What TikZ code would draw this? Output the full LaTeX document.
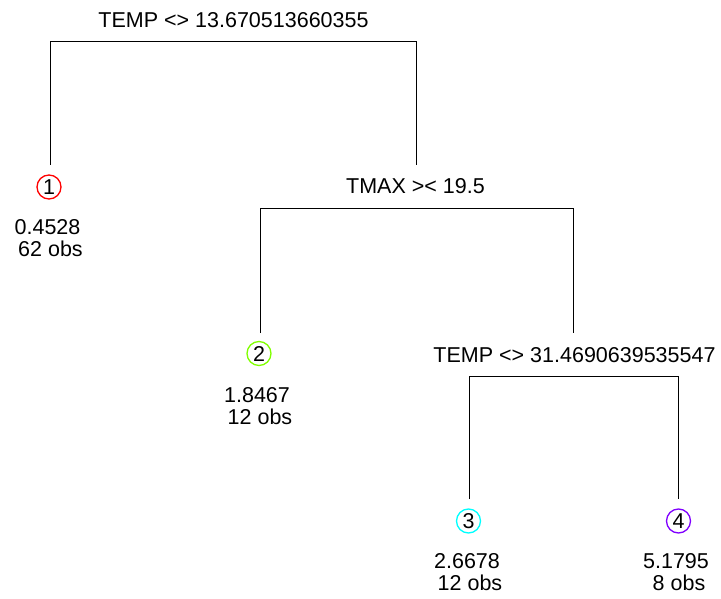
\documentclass[tikz,border=0pt]{standalone}
\usepackage{fontspec}
\setmainfont{Liberation Sans}
\definecolor{leafA}{HTML}{FF0000}
\definecolor{leafB}{HTML}{80FF00}
\definecolor{leafC}{HTML}{00FFFF}
\definecolor{leafD}{HTML}{8000FF}
\begin{document}
\begin{tikzpicture}[x=1pt,y=-1pt,
  lab/.style={anchor=base,inner sep=0pt,font=\fontsize{21.5}{22}\selectfont},
  leaf/.style={circle,draw=#1,line width=1.3pt,minimum size=24pt,inner sep=0pt,font=\fontsize{21.5}{22}\selectfont},
  edge/.style={line width=1pt,black}]
\useasboundingbox (0,0) rectangle (721,599);
% split labels
\node[lab] (s1) at (233.5,27.5) {TEMP <> 13.670513660355};
\node[lab] (s2) at (415.5,193.5) {TMAX >< 19.5};
\node[lab] (s3) at (574.5,362) {TEMP <> 31.4690639535547};
% leaves
\node[leaf=leafA] (c1) at (49,187) {1};
\node[leaf=leafB] (c2) at (259,353.5) {2};
\node[leaf=leafC] (c3) at (468.5,521) {3};
\node[leaf=leafD] (c4) at (678.5,521) {4};
% leaf texts
\node[lab] (v1) at (47.5,235) {0.4528};
\node[lab] (n1) at (47.5,257) {\ 62 obs};
\node[lab] (v2) at (257,402) {1.8467};
\node[lab] (n2) at (257,424) {\ 12 obs};
\node[lab] (v3) at (467,568) {2.6678};
\node[lab] (n3) at (467,590) {\ 12 obs};
\node[lab] (v4) at (676,568) {5.1795};
\node[lab] (n4) at (676,590) {\ 8 obs};
% bar coordinates
\coordinate (e1l) at (50,165);
\coordinate (b1r) at (416,42);
\coordinate (e1r) at (416,165);
\coordinate (e2l) at (260,333);
\coordinate (b2r) at (573.5,209);
\coordinate (e2r) at (573.5,333);
\coordinate (e3l) at (469,499);
\coordinate (b3r) at (678.5,376);
\coordinate (e3r) at (678.5,499);
\draw[edge] (e1l) |- (b1r) -- (e1r);
\draw[edge] (e2l) |- (b2r) -- (e2r);
\draw[edge] (e3l) |- (b3r) -- (e3r);
\end{tikzpicture}
\end{document}
